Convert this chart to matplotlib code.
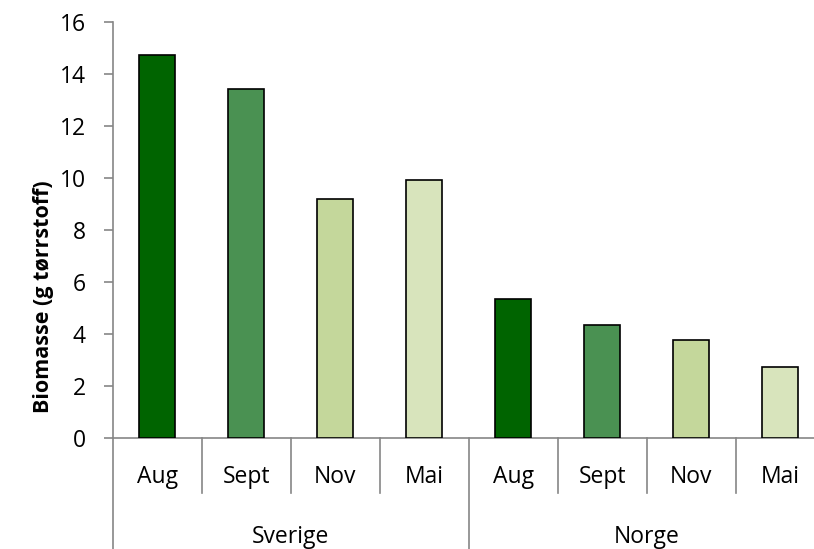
import matplotlib
matplotlib.use("Agg")
import matplotlib.pyplot as plt
import matplotlib.transforms as mtransforms

# data
countries = ["Sverige", "Norge"]
months = ["Aug", "Sept", "Nov", "Mai"]
sverige = [14.72, 13.41, 9.19, 9.90]
norge = [5.33, 4.36, 3.77, 2.72]
month_colors = ["#006400", "#4A9152", "#C4D79B", "#D8E4BC"]

plt.rcParams['font.family'] = ['Open Sans', 'DejaVu Sans']

W, H = 814, 549
fig = plt.figure(figsize=(W / 100, H / 100), dpi=100)

# axes in pixel coords (x0, y_top, slot width, y_bottom)
X0, Y_TOP, SLOT, Y_BOT = 112.7, 21.7, 89.0, 438.0
ax = fig.add_axes([X0 / W, 1 - Y_BOT / H, 8 * SLOT / W, (Y_BOT - Y_TOP) / H])

grey = "#868686"
FS = 16.5
values = sverige + norge
for i, v in enumerate(values):
    ax.bar(i + 0.5, v, width=0.41, color=month_colors[i % 4],
           edgecolor="black", linewidth=1.2, zorder=3)

ax.set_xlim(0, 8)
ax.set_ylim(0, 16)
ax.set_yticks(range(0, 17, 2))
ax.set_xticks([])
ax.tick_params(axis='y', colors=grey, length=6.5, width=1.2, labelsize=FS,
               labelcolor="black", pad=13)
for s in ['top', 'right']:
    ax.spines[s].set_visible(False)
for s in ['left', 'bottom']:
    ax.spines[s].set_color(grey)
    ax.spines[s].set_linewidth(1.2)

ax.set_ylabel("Biomasse (g tørrstoff)", fontsize=15.5, fontweight="bold")
ax.yaxis.set_label_coords(-0.082, 0.34)

# two level category axis below the plot
trans = mtransforms.blended_transform_factory(ax.transData, fig.transFigure)
for i in range(9):
    y_end = 549 if i % 4 == 0 else 493
    ax.plot([i, i], [1 - Y_BOT / H, 1 - y_end / H], color=grey, lw=1.2,
            transform=trans, clip_on=False)

labels = months * 2
for i, lab in enumerate(labels):
    ax.text(i + 0.5, 1 - 483 / H, lab, transform=trans, ha="center",
            va="baseline", fontsize=FS)
for j, c in enumerate(countries):
    ax.text(j * 4 + 2, 1 - 542.7 / H, c, transform=trans, ha="center",
            va="baseline", fontsize=FS)

fig.savefig("out.png", dpi=100)
